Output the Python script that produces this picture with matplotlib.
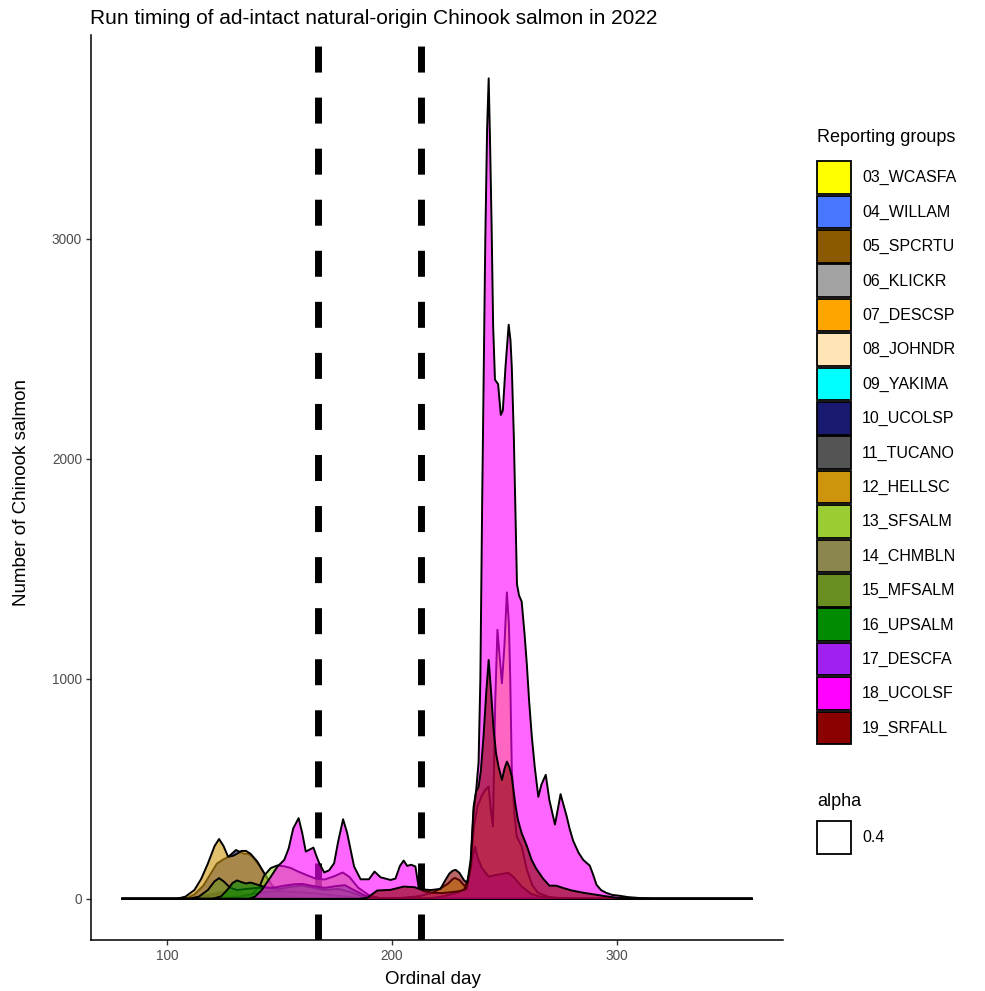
import matplotlib
matplotlib.use("Agg")
import matplotlib.pyplot as plt
from matplotlib.patches import Patch

plt.rcParams['font.family'] = ['Liberation Sans', 'DejaVu Sans']

# ---------------- data: (ordinal day, number of fish) per reporting group ----------------
g03_WCASFA = [(80, 0), (195, 0), (205, 5), (212, 12), (218, 28), (222, 50), (225, 70), (227, 90),
              (228, 95), (230, 85), (232, 62), (233.5, 55), (235, 150), (236.5, 330), (238, 420),
              (240, 470), (241.5, 495), (243, 511), (244, 400), (244.9, 329), (245.9, 890),
              (246.9, 1223), (247.9, 1100), (248.9, 980), (250, 1150), (251.1, 1393), (252, 1250),
              (252.6, 1000), (253.3, 586), (254.5, 380), (255.5, 283), (257.7, 238), (260, 132),
              (262.5, 60), (265, 27), (270, 8), (280, 0), (360, 0)]
g04_WILLAM = [(80, 0), (108, 0), (115, 12), (122, 25), (128, 28), (135, 18), (142, 8), (150, 0), (360, 0)]
g05_SPCRTU = [(80, 0), (110, 0), (117, 15), (124, 30), (130, 32), (137, 20), (145, 6), (152, 0), (360, 0)]
g06_KLICKR = [(80, 0), (115, 0), (124, 8), (132, 12), (140, 8), (150, 0), (360, 0)]
g07_DESCSP = [(80, 0), (114, 0), (122, 8), (130, 15), (138, 10), (146, 3), (152, 0), (360, 0)]
g08_JOHNDR = [(80, 0), (110, 0), (118, 12), (125, 25), (131, 20), (138, 10), (146, 0), (360, 0)]
g09_YAKIMA = [(80, 0), (118, 0), (128, 10), (138, 20), (148, 15), (158, 5), (165, 0), (360, 0)]
g10_UCOLSP = [(80, 0), (108, 0), (112, 20), (116, 60), (119, 110), (122, 160), (125, 180), (127, 190),
              (129, 208), (130.5, 222), (132, 215), (134, 205), (136, 205), (138, 190), (141, 150),
              (144, 100), (147, 55), (151, 20), (156, 5), (162, 0), (360, 0)]
g11_TUCANO = [(80, 0), (115, 0), (124, 6), (131, 10), (138, 6), (146, 0), (360, 0)]
g12_HELLSC = [(80, 0), (104, 0), (108, 10), (112, 40), (115, 90), (118, 160), (121, 240), (123, 272),
              (125, 240), (127, 192), (129, 195), (131, 205), (133, 218), (135, 218), (137, 205),
              (140, 170), (143, 118), (146, 70), (149, 30), (153, 8), (158, 0), (360, 0)]
g13_SFSALM = [(80, 0), (130, 0), (134, 8), (138, 25), (141, 55), (143, 105), (146, 140), (149, 152),
              (152, 148), (155, 140), (158, 125), (162, 108), (166, 92), (170, 88), (174, 102),
              (178, 120), (181, 100), (185, 50), (190, 15), (196, 0), (360, 0)]
g14_CHMBLN = [(80, 0), (125, 0), (132, 10), (140, 25), (148, 35), (156, 32), (165, 25), (175, 15),
              (185, 5), (195, 0), (360, 0)]
g15_MFSALM = [(80, 0), (110, 0), (114, 10), (118, 40), (121, 80), (123, 94), (125, 80), (128, 50),
              (131, 40), (135, 45), (140, 50), (145, 50), (150, 45), (155, 55), (160, 60), (165, 50),
              (170, 40), (176, 45), (180, 35), (186, 15), (192, 5), (200, 0), (360, 0)]
g16_UPSALM = [(80, 0), (120, 0), (124, 12), (127, 45), (129, 72), (131, 84), (133, 76), (135, 70),
              (137, 74), (139, 68), (142, 58), (145, 50), (148, 52), (152, 60), (156, 66), (160, 68),
              (165, 58), (170, 50), (175, 58), (179, 62), (183, 40), (188, 15), (195, 0), (360, 0)]
g17_DESCFA = [(80, 0), (215, 0), (222, 10), (228, 25), (232, 40), (234.5, 110), (236, 200), (237, 238),
              (238, 190), (240, 140), (243, 101), (247, 110), (251.8, 118), (254, 100), (257.7, 56),
              (262, 22), (266, 10), (272, 4), (280, 0), (360, 0)]
g18_UCOLSF = [(80, 0), (136, 0), (139, 10), (142, 40), (146, 100), (149, 147), (152, 177), (154, 230),
              (156, 320), (158.4, 367), (160, 300), (161.6, 215), (163.5, 225), (165, 233), (166.5, 190),
              (167.6, 162), (169.8, 120), (172, 130), (174.2, 162), (176, 260), (178.2, 362), (180, 300),
              (183.1, 147), (186, 89), (189.7, 89), (192.2, 124), (194.9, 98), (199.3, 86), (201.5, 92),
              (203.5, 150), (205.2, 174), (206.7, 150), (208.5, 155), (210.4, 147), (211.9, 48),
              (214.1, 35), (218, 28), (222, 26), (226, 30), (230, 35), (233, 45), (235, 150),
              (236.3, 400), (237.4, 490), (238.5, 620), (239.3, 1000), (240.1, 1800), (240.8, 2400),
              (241.5, 3000), (242.3, 3500), (243, 3730), (243.6, 3450), (244.3, 3063), (245, 2600),
              (245.8, 2360), (247.2, 2340), (248.4, 2200), (249.3, 2220), (250.5, 2420), (251.9, 2610),
              (252.7, 2540), (253.3, 2414), (254.2, 2100), (254.8, 1814), (255.6, 1430), (256.5, 1380),
              (257.7, 1351), (259, 1200), (260, 1064), (261, 900), (262.2, 738), (263.5, 600),
              (265.1, 464), (266.5, 520), (268.4, 564), (270, 450), (272.5, 338), (274, 420), (275, 476),
              (276.5, 420), (277.7, 376), (279, 320), (280.6, 264), (283, 210), (285.1, 177), (287, 160),
              (288, 151), (289.5, 110), (291, 64), (293, 40), (295.4, 27), (298, 18), (301.3, 14),
              (305, 8), (310, 4), (316, 0), (360, 0)]
g19_SRFALL = [(80, 0), (185, 0), (189, 5), (193.4, 38), (199.3, 41), (205.2, 56), (210, 53), (212.6, 44),
              (217, 40), (221.5, 45), (224, 90), (225.5, 115), (227, 128), (228.3, 132), (230, 118),
              (232, 85), (233.5, 72), (235, 180), (236.3, 420), (237.4, 488), (238.5, 510), (239.5, 580),
              (240.7, 738), (242, 950), (243, 1086), (244, 950), (245.2, 768), (246.3, 660), (247.4, 601),
              (248.9, 541), (250, 590), (251.1, 624), (252.2, 600), (253.3, 556), (254.8, 435), (256, 360),
              (257.7, 298), (260, 240), (262, 180), (264, 140), (267, 95), (270, 60), (273, 60), (276, 50),
              (280, 38), (285, 28), (290, 20), (295, 12), (300, 5), (310, 0), (360, 0)]

group_names = ["03_WCASFA", "04_WILLAM", "05_SPCRTU", "06_KLICKR", "07_DESCSP", "08_JOHNDR",
               "09_YAKIMA", "10_UCOLSP", "11_TUCANO", "12_HELLSC", "13_SFSALM", "14_CHMBLN",
               "15_MFSALM", "16_UPSALM", "17_DESCFA", "18_UCOLSF", "19_SRFALL"]
group_data = [g03_WCASFA, g04_WILLAM, g05_SPCRTU, g06_KLICKR, g07_DESCSP, g08_JOHNDR, g09_YAKIMA,
              g10_UCOLSP, g11_TUCANO, g12_HELLSC, g13_SFSALM, g14_CHMBLN, g15_MFSALM, g16_UPSALM,
              g17_DESCFA, g18_UCOLSF, g19_SRFALL]
group_colors = ["#FFFF00", "#4876FF", "#8B5A00", "#A3A3A3", "#FFA500", "#FFE4B5", "#00FFFF",
                "#191970", "#545454", "#CD950C", "#9ACD32", "#8B864E", "#6B8E23", "#008B00",
                "#A020F0", "#FF00FF", "#8B0000"]

period_breaks = [167, 213]
x_ticks = [100, 200, 300]
y_ticks = [0, 1000, 2000, 3000]
fill_alpha = 0.6

# ---------------- figure ----------------
W, H = 985, 991
fig = plt.figure(figsize=(W / 100, H / 100), dpi=100)
ax = fig.add_axes([91 / W, (H - 940) / H, (783 - 91) / W, (940 - 35) / H])

for xb in period_breaks:
    ax.axvline(xb, color="black", lw=5, ls=(0, (3.744, 3.608)), zorder=1.5)

for data, col in zip(group_data, group_colors):
    d = [p[0] for p in data]
    v = [p[1] for p in data]
    ax.fill_between(d, v, 0, facecolor=col, alpha=fill_alpha, linewidth=0, zorder=2)
    ax.plot(d, v, color="black", lw=1.4, zorder=2, solid_joinstyle="round")

ax.set_xlim(66, 374)
ax.set_ylim(-187, 3927)
ax.set_xticks(x_ticks)
ax.set_yticks(y_ticks)
for s in ["top", "right"]:
    ax.spines[s].set_visible(False)
for s in ["left", "bottom"]:
    ax.spines[s].set_linewidth(1.1)
    ax.spines[s].set_color("black")
ax.tick_params(axis="both", length=3.5, width=1.0, color="#333333", labelcolor="#4D4D4D",
               labelsize=9.8, pad=3)

ax.set_xlabel("Ordinal day", fontsize=13.5)
ax.set_ylabel("Number of Chinook salmon", fontsize=13.5)
ax.xaxis.set_label_coords((433 - 91) / (783 - 91), -(980 - 940) / (940 - 35))
ax.xaxis.label.set_va("center")
ax.yaxis.set_label_coords(-(91 - 22) / (783 - 91), (940 - 492) / (940 - 35))
ax.yaxis.label.set_va("center")
fig.text(90 / W, 1 - 18 / H, "Run timing of ad-intact natural-origin Chinook salmon in 2022",
         fontsize=15, ha="left", va="center")

# ---------------- legends ----------------
fs = 11.5
fpx = fs * 100 / 72
hh = ((32.5 * 0.72) / fs - 0.245) / 0.65
lsp = ((34.4 - 32.5) * 0.72) / fs
handles = [Patch(facecolor=c, edgecolor="black", linewidth=1.3) for c in group_colors]
leg1 = fig.legend(handles, group_names, loc="upper left", bbox_to_anchor=(817 / W, 1 - 129 / H),
                  frameon=False, title="Reporting groups", fontsize=fs, title_fontsize=13,
                  handlelength=34 / fpx, handleheight=hh, labelspacing=lsp,
                  handletextpad=11 / fpx, borderaxespad=0, borderpad=0, alignment="left")
leg1._legend_box.sep = 11.0
leg2 = fig.legend([Patch(facecolor="white", edgecolor="black", linewidth=1.3)], ["0.4"],
                  loc="upper left", bbox_to_anchor=(817 / W, 1 - 793 / H), frameon=False,
                  title="alpha", fontsize=fs, title_fontsize=13,
                  handlelength=34 / fpx, handleheight=hh, handletextpad=11 / fpx,
                  borderaxespad=0, borderpad=0, alignment="left")
leg2._legend_box.sep = 8.0

fig.savefig("out.png", dpi=100)
